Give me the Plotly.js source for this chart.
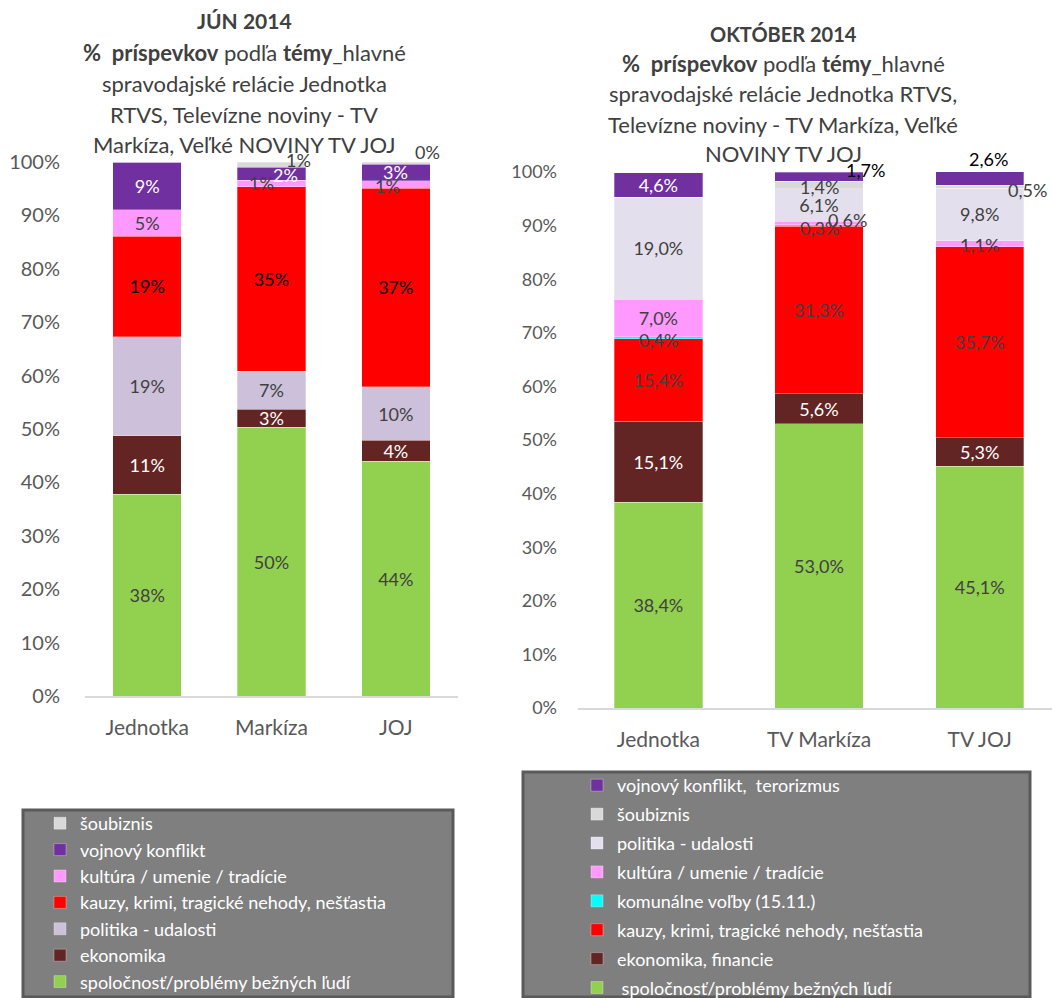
<!DOCTYPE html>
<html><head><meta charset="utf-8">
<script src="https://cdn.plot.ly/plotly-3.0.1.min.js"></script>
<style>html,body{margin:0;padding:0;background:#fff}#chart{width:1052px;height:998px}</style>
</head><body><div id="chart"></div><script>
// ---------- JÚN 2014 ----------
const junCategories = ['Jednotka', 'Markíza', 'JOJ'];
const junSpolocnost = [37.8, 50.3, 44.0];
const junEkonomika  = [10.9, 3.4, 3.9];
const junPolitika   = [18.6, 7.1, 10.0];
const junKauzy      = [18.8, 34.6, 37.2];
const junKultura    = [5.0, 1.2, 1.4];
const junVojnovy    = [8.9, 2.4, 3.1];
const junSoubiznis  = [0, 1.0, 0.4];
const junTitleLines = ['<b>JÚN 2014</b>', '<b>%  príspevkov</b> podľa <b>témy</b>_hlavné',
  'spravodajské relácie Jednotka', 'RTVS, Televízne noviny - TV', 'Markíza, Veľké NOVINY TV JOJ'];

// ---------- OKTÓBER 2014 ----------
const oktCategories = ['Jednotka', 'TV Markíza', 'TV JOJ'];
const oktSpolocnost = [38.4, 53.0, 45.1];
const oktEkonomika  = [15.1, 5.6, 5.3];
const oktKauzy      = [15.4, 31.3, 35.7];
const oktKomunalne  = [0.4, 0.3, 0];
const oktKultura    = [7.0, 0.6, 1.1];
const oktPolitika   = [19.0, 6.1, 9.8];
const oktSoubiznis  = [0, 1.4, 0.5];
const oktVojnovy    = [4.6, 1.7, 2.6];
const oktTitleLines = ['<b>OKTÓBER 2014</b>', '<b>%  príspevkov</b> podľa <b>témy</b>_hlavné',
  'spravodajské relácie Jednotka RTVS,', 'Televízne noviny - TV Markíza, Veľké', 'NOVINY TV JOJ'];

const FONT = 'Lato, "Open Sans", sans-serif';
const DARK = '#404040';
const W = 1052, H = 998;
const px = x => x / W;
const py = y => 1 - y / H;

// label offsets (dx, dy px; dy up) for small segments, drawn as annotations on top of the bars
const junSeries = [
  {name: 'spoločnosť/problémy bežných ľudí', values: junSpolocnost, color: '#92D050', tc: DARK},
  {name: 'ekonomika', values: junEkonomika, color: '#632523', tc: '#ffffff'},
  {name: 'politika - udalosti', values: junPolitika, color: '#CCC0DA', tc: DARK},
  {name: 'kauzy, krimi, tragické nehody, nešťastia', values: junKauzy, color: '#FF0000', tc: '#000000'},
  {name: 'kultúra / umenie / tradície', values: junKultura, color: '#FF99FF', tc: DARK, off: {1: [-10, 0], 2: [-8, -2]}},
  {name: 'vojnový konflikt', values: junVojnovy, color: '#7030A0', tc: '#ffffff', off: {1: [14, -1], 2: [0, 0]}},
  {name: 'šoubiznis', values: junSoubiznis, color: '#D9D9D9', tc: DARK, off: {1: [27, 5], 2: [32, 11]}, showZero: true}
];
const oktSeries = [
  {name: ' spoločnosť/problémy bežných ľudí', values: oktSpolocnost, color: '#92D050', tc: DARK},
  {name: 'ekonomika, financie', values: oktEkonomika, color: '#632523', tc: '#ffffff'},
  {name: 'kauzy, krimi, tragické nehody, nešťastia', values: oktKauzy, color: '#FF0000', tc: DARK},
  {name: 'komunálne voľby (15.11.)', values: oktKomunalne, color: '#00FFFF', tc: DARK, off: {0: [0, -2], 1: [0, -3]}},
  {name: 'kultúra / umenie / tradície', values: oktKultura, color: '#FF99FF', tc: DARK, off: {1: [28, 3], 2: [0, -1]}},
  {name: 'politika - udalosti', values: oktPolitika, color: '#E4DFEC', tc: DARK},
  {name: 'šoubiznis', values: oktSoubiznis, color: '#D9D9D9', tc: DARK, off: {1: [0, -2], 2: [48, -3]}},
  {name: 'vojnový konflikt,  terorizmus', values: oktVojnovy, color: '#7030A0', tc: '#ffffff', off: {1: [46, 7, '#000000'], 2: [9, 19, '#000000']}}
];

const traces = [], annotations = [];
function build(cats, series, xa, ya, legendId, fmt, fsize, prefix) {
  const cum = cats.map(() => 0);
  series.forEach((s, si) => {
    const texts = s.values.map((v, i) => {
      const lbl = fmt(v);
      const off = s.off && s.off[i];
      if (off && (v > 0 || s.showZero)) {
        annotations.push({xref: xa, yref: ya, x: cats[i], y: cum[i] + v / 2, text: lbl, showarrow: false,
          xshift: off[0], yshift: off[1], font: {family: FONT, size: fsize, color: off[2] || s.tc}});
        return '';
      }
      return v > 0 ? lbl : '';
    });
    s.values.forEach((v, i) => { cum[i] += v; });
    traces.push({
      type: 'bar', name: s.name, x: cats, y: s.values, xaxis: xa, yaxis: ya,
      legend: legendId, legendgroup: prefix + si, legendrank: 100 - si,
      marker: {color: s.color, line: {color: 'rgba(255,255,255,0.5)', width: 0.6}},
      text: texts, textposition: 'inside', insidetextanchor: 'middle', textangle: 0,
      constraintext: 'none', cliponaxis: false,
      textfont: {family: FONT, size: fsize, color: s.tc},
      hoverinfo: 'skip'
    });
  });
}
build(junCategories, junSeries, 'x', 'y', 'legend', v => v.toFixed(0) + '%', 18, 'j');
build(oktCategories, oktSeries, 'x2', 'y2', 'legend2', v => v.toFixed(1).replace('.', ',') + '%', 18, 'o');

junTitleLines.forEach((t, i) => annotations.push({xref: 'paper', yref: 'paper', x: px(244), y: py([21, 52, 83, 114, 145][i]),
  xanchor: 'center', yanchor: 'middle', text: t, showarrow: false, font: {family: FONT, size: i === 0 ? 21 : 22, color: DARK}}));
oktTitleLines.forEach((t, i) => annotations.push({xref: 'paper', yref: 'paper', x: px(783), y: py([34, 64, 94, 124, 153][i]),
  xanchor: 'center', yanchor: 'middle', text: t, showarrow: false, font: {family: FONT, size: i === 0 ? 20 : 22, color: DARK}}));

const layout = {
  width: W, height: H, margin: {l: 0, r: 0, t: 0, b: 0, autoexpand: false},
  paper_bgcolor: '#ffffff', plot_bgcolor: 'rgba(0,0,0,0)',
  barmode: 'stack', bargap: 0.45, showlegend: true,
  font: {family: FONT},
  xaxis: {domain: [px(85), px(458)], range: [-0.5, 2.5], anchor: 'y', showline: true, linecolor: '#D9D9D9', linewidth: 2,
    ticks: '', showgrid: false, zeroline: false, tickfont: {family: FONT, size: 21, color: '#595959'}, ticklabelstandoff: 12, fixedrange: true},
  yaxis: {domain: [py(696), py(162)], range: [0, 100], anchor: 'x', dtick: 10, ticksuffix: '%', showgrid: false, zeroline: false,
    showline: false, ticks: '', tickfont: {family: FONT, size: 20, color: '#595959'}, ticklabelstandoff: 24, fixedrange: true},
  xaxis2: {domain: [px(578), 1], range: [-0.5, 2.45], anchor: 'y2', showline: true, linecolor: '#D9D9D9', linewidth: 2,
    ticks: '', showgrid: false, zeroline: false, tickfont: {family: FONT, size: 21, color: '#595959'}, ticklabelstandoff: 12, fixedrange: true},
  yaxis2: {domain: [py(708), py(172)], range: [0, 100], anchor: 'x2', dtick: 10, ticksuffix: '%', showgrid: false, zeroline: false,
    showline: false, ticks: '', tickfont: {family: FONT, size: 18, color: '#595959'}, ticklabelstandoff: 20, fixedrange: true},
  legend: {x: px(40), y: py(805), xanchor: 'left', yanchor: 'top', bgcolor: 'rgba(0,0,0,0)', borderwidth: 0, maxheight: 1000,
    traceorder: 'grouped', tracegroupgap: 0, font: {family: FONT, size: 18, color: '#ffffff'}},
  legend2: {x: px(577), y: py(767), xanchor: 'left', yanchor: 'top', bgcolor: 'rgba(0,0,0,0)', borderwidth: 0, maxheight: 1000,
    traceorder: 'grouped', tracegroupgap: 2.5, font: {family: FONT, size: 18, color: '#ffffff'}},
  shapes: [
    {type: 'rect', xref: 'paper', yref: 'paper', x0: px(23), x1: px(453), y0: py(997), y1: py(810),
      fillcolor: '#7F7F7F', line: {color: '#5A5A5A', width: 3}, layer: 'below'},
    {type: 'rect', xref: 'paper', yref: 'paper', x0: px(523), x1: px(1030), y0: py(997), y1: py(772),
      fillcolor: '#7F7F7F', line: {color: '#5A5A5A', width: 3}, layer: 'below'}
  ],
  annotations: annotations
};
Plotly.newPlot('chart', traces, layout, {displayModeBar: false, staticPlot: true});
</script></body></html>
